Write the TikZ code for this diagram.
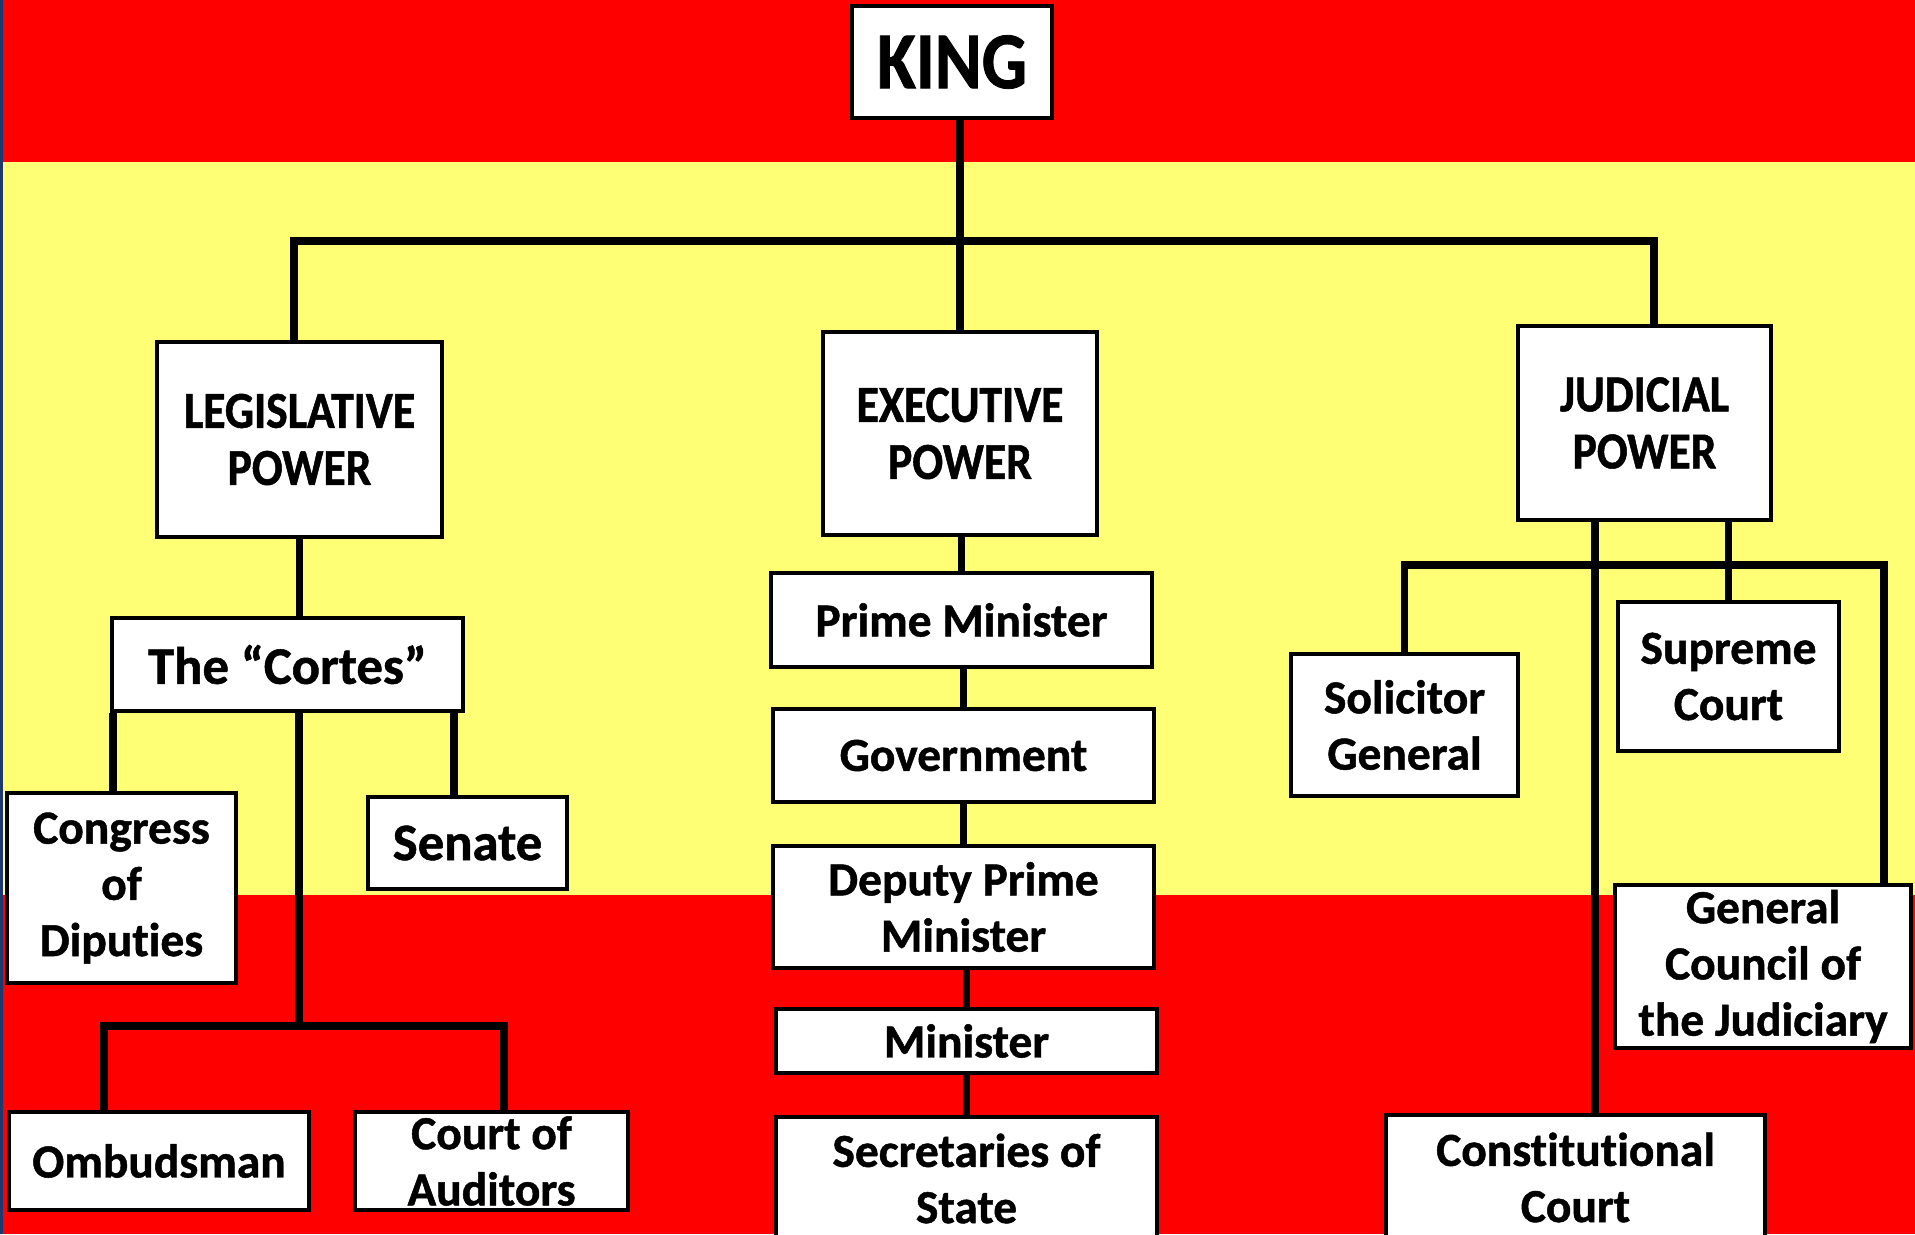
\documentclass[tikz,border=0pt]{standalone}
\usepackage{fontspec}
\setmainfont{Carlito}[Ligatures=NoCommon, BoldFeatures={FakeBold=1}]
\newfontfamily\capsfont{Carlito}[Ligatures=NoCommon, FakeStretch=0.88, BoldFeatures={FakeBold=1}]
\definecolor{flagred}{RGB}{255,0,0}
\definecolor{flagyellow}{RGB}{255,255,117}
\definecolor{edgeblue}{RGB}{31,56,110}
\begin{document}
\begin{tikzpicture}
[x=0.02cm, y=-0.02cm,
box/.style={draw, line width=2.5pt, fill=white, align=center, inner sep=0pt,
            font=\bfseries\fontsize{27}{32}\selectfont},
power/.style={box, font=\capsfont\bfseries\fontsize{29.5}{32.5}\selectfont},
link/.style={draw, line width=4.5pt}
]
\useasboundingbox (0,0) rectangle (1915,1234);
\clip (0,0) rectangle (1915,1234);
% flag stripes
\fill[flagred] (0,0) rectangle (1915,162);
\fill[flagyellow] (0,162) rectangle (1915,895);
\fill[flagred] (0,895) rectangle (1915,1234);
\fill[edgeblue] (0,0) rectangle (3,1234);

\node[box, minimum width=4cm, minimum height=2.24cm,
      font=\capsfont\bfseries\fontsize{46}{50}\selectfont] (king) at (952,62) {KING};

\node[power, minimum width=5.7cm, minimum height=3.9cm] (legis) at (299.5,439.5) {LEGISLATIVE\\POWER};
\node[power, minimum width=5.48cm, minimum height=4.06cm] (exec) at (960,433.5) {EXECUTIVE\\POWER};
\node[power, minimum width=5.06cm, minimum height=3.88cm] (judic) at (1644.5,423) {JUDICIAL\\POWER};

% legislative
\node[box, minimum width=7.02cm, minimum height=1.86cm,
      font=\bfseries\fontsize{30}{34}\selectfont] (cortes) at (287.5,664.5) {The “Cortes”};
\node[box, minimum width=4.58cm, minimum height=3.8cm] (congress) at (121.5,888) {Congress\\of\\Diputies};
\node[box, minimum width=3.98cm, minimum height=1.84cm,
      font=\bfseries\fontsize{30}{34}\selectfont] (senate) at (467.5,843) {Senate};
\node[box, minimum width=6cm, minimum height=1.96cm] (ombud) at (159,1161) {Ombudsman};
\node[box, minimum width=5.46cm, minimum height=1.96cm] (audit) at (491.5,1161) {Court of\\Auditors};

% executive
\node[box, minimum width=7.62cm, minimum height=1.88cm] (pm) at (961.5,620) {Prime Minister};
\node[box, minimum width=7.62cm, minimum height=1.86cm] (gov) at (963.5,755.5) {Government};
\node[box, minimum width=7.62cm, minimum height=2.44cm] (deputy) at (963.5,907) {Deputy Prime\\Minister};
\node[box, minimum width=7.62cm, minimum height=1.28cm] (minister) at (966.5,1041) {Minister};
\node[box, minimum width=7.62cm, minimum height=2.46cm] (secret) at (966.5,1178.5) {Secretaries of\\State};

% judicial
\node[box, minimum width=4.54cm, minimum height=2.84cm] (solic) at (1404.5,725) {Solicitor\\General};
\node[box, minimum width=4.42cm, minimum height=2.98cm] (supreme) at (1728.5,676.5) {Supreme\\Court};
\node[box, minimum width=5.92cm, minimum height=3.26cm] (council) at (1763,966.5) {General\\Council of\\the Judiciary};
\node[box, minimum width=7.58cm, minimum height=2.5cm] (consti) at (1575.5,1177.5) {Constitutional\\Court};

\coordinate (busL) at (294,241);
\coordinate (busR) at (1654,241);
\coordinate (cbus) at (299,1026);
\coordinate (obL) at (104,1026);
\coordinate (obR) at (504,1026);
\coordinate (senTop) at (454,797);
\coordinate (congTop) at (113,793);
\coordinate (jcol) at (1595,1115);
\coordinate (jbusR) at (1884,565);

\draw[link] (exec.north |- king.south) -- (exec.north);
\draw[link] (busL |- legis.north) -- (busL) -- (busR) -- (busR |- judic.north);

\draw[link] (legis.south) -- (legis.south |- cortes.north);
\draw[link] (congTop |- cortes.south) -- (congTop);
\draw[link] (senTop |- cortes.south) -- (senTop);
\draw[link] (cbus |- cortes.south) -- (cbus);
\draw[link] (obL |- ombud.north) -- (obL) -- (obR) -- (obR |- audit.north);

\draw[link] (pm.north |- exec.south) -- (pm.north);
\draw[link] (gov.north |- pm.south) -- (gov.north);
\draw[link] (deputy.north |- gov.south) -- (deputy.north);
\draw[link] (minister.north |- deputy.south) -- (minister.north);
\draw[link] (secret.north |- minister.south) -- (secret.north);

\draw[link] (jcol |- judic.south) -- (jcol);
\draw[link] (supreme.north |- judic.south) -- (supreme.north);
\draw[link] (solic.north) |- (jbusR) -- (jbusR |- council.north);
\end{tikzpicture}
\end{document}
